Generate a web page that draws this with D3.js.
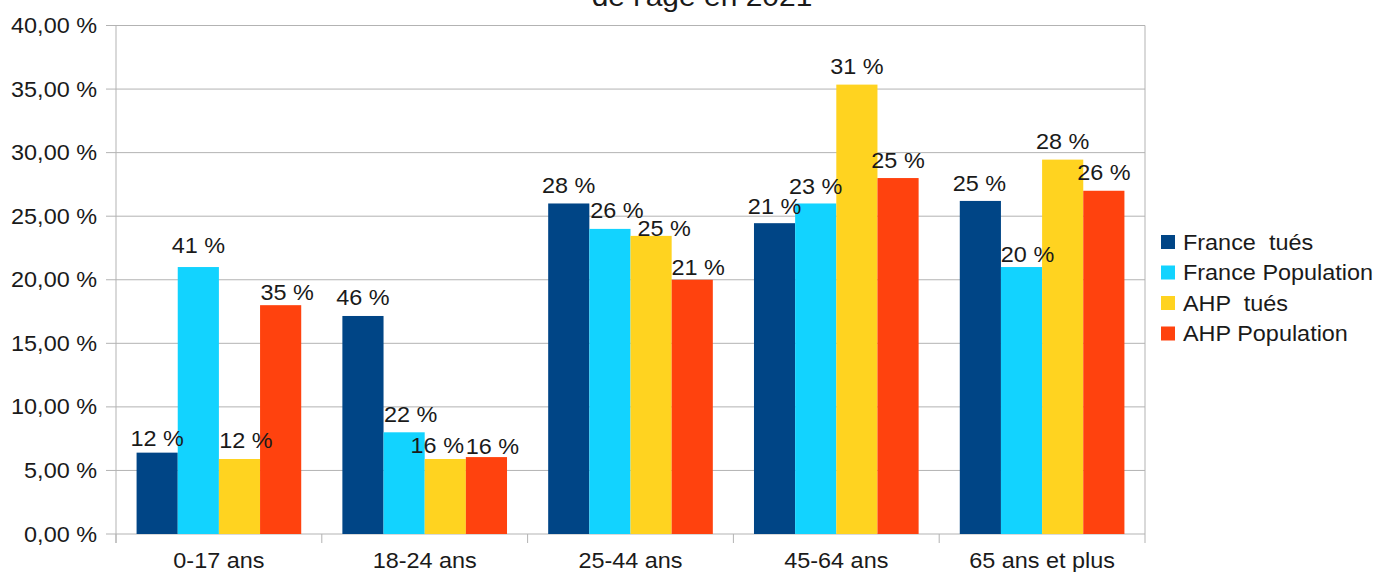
<!DOCTYPE html>
<html>
<head>
<meta charset="utf-8">
<script src="https://cdn.jsdelivr.net/npm/d3@7"></script>
<style>
  html, body { margin: 0; padding: 0; background: #fff; }
  svg { display: block; font-family: "Liberation Sans", Arial, sans-serif; }
  text { white-space: pre; }
</style>
</head>
<body>
<svg id="chart" width="1380" height="572"></svg>
<script>
const categories = ["0-17 ans", "18-24 ans", "25-44 ans", "45-64 ans", "65 ans et plus"];
const seriesNames = ["France  tués", "France Population", "AHP  tués", "AHP Population"];
const seriesColors = ["#004586", "#12d3ff", "#ffd320", "#ff420e"];
const franceTues = [6.4, 17.15, 26.0, 24.45, 26.2];
const francePop = [21.0, 8.0, 24.0, 26.0, 21.0];
const ahpTues = [5.9, 5.9, 23.45, 35.35, 29.45];
const ahpPop = [18.0, 6.05, 20.0, 28.0, 27.0];
const franceTuesLabels = ["12 %", "46 %", "28 %", "21 %", "25 %"];
const francePopLabels = ["41 %", "22 %", "26 %", "23 %", "20 %"];
const ahpTuesLabels = ["12 %", "16 %", "25 %", "31 %", "28 %"];
const ahpPopLabels = ["35 %", "16 %", "21 %", "25 %", "26 %"];
const yTicks = [0, 5, 10, 15, 20, 25, 30, 35, 40];
const titleText = "de l'âge en 2021";

// label placement nudges (layout only), [series][category] -> [dx, dy]
const labelNudge = [
  [[0, 3.5], [0, 0], [0, 0], [0, 1], [-1, 1]],
  [[0, -3.5], [6.5, 0], [7, 0], [0, 1], [6, 5.5]],
  [[6.5, 0], [-8, 5], [13, 11], [0, 0], [0, 0]],
  [[6.5, 5.5], [6, 7], [6, 5.5], [0, 0], [0, 0]]
];

const seriesValues = [franceTues, francePop, ahpTues, ahpPop];
const seriesLabels = [franceTuesLabels, francePopLabels, ahpTuesLabels, ahpPopLabels];

const svg = d3.select("#chart");
const pLeft = 116, pRight = 1145, pTop = 25.5, pBottom = 534;
const fs = 21.5;
const sx = 1.09;
const ink = "#1a1a1a";

function addText(parent, tx, ty, str, anchor, size) {
  return parent.append("text")
    .attr("transform", `translate(${tx},${ty}) scale(${sx},1)`)
    .attr("text-anchor", anchor)
    .attr("font-size", size || fs)
    .attr("fill", ink)
    .text(str);
}

const x = d3.scaleBand().domain(categories).range([pLeft, pRight]).paddingInner(0.2).paddingOuter(0.1);
const xs = d3.scaleBand().domain(d3.range(seriesNames.length)).range([0, x.bandwidth()]).padding(0);
const y = d3.scaleLinear().domain([0, 40]).range([pBottom, pTop]);

// gridlines
svg.append("g").selectAll("line").data(yTicks).join("line")
  .attr("x1", pLeft - 10).attr("x2", pRight)
  .attr("y1", d => y(d)).attr("y2", d => y(d))
  .attr("stroke", "#b3b3b3").attr("stroke-width", 1);

// right border
svg.append("line").attr("x1", pRight).attr("x2", pRight).attr("y1", pTop).attr("y2", pBottom)
  .attr("stroke", "#b3b3b3");

// y axis line
svg.append("line").attr("x1", pLeft).attr("x2", pLeft).attr("y1", pTop).attr("y2", pBottom + 9)
  .attr("stroke", "#b3b3b3");

// x ticks at category boundaries
const step = x.step();
const boundaries = d3.range(categories.length + 1).map(i => pLeft + i * step);
svg.append("g").selectAll("line").data(boundaries).join("line")
  .attr("x1", d => d).attr("x2", d => d).attr("y1", pBottom).attr("y2", pBottom + 9)
  .attr("stroke", "#b3b3b3");

// y tick labels
const fmt = d => d3.format(".2f")(d).replace(".", ",") + " %";
const gy = svg.append("g");
yTicks.forEach(t => addText(gy, 97, y(t) + 7.5, fmt(t), "end"));

// x labels
const gx = svg.append("g");
categories.forEach(c => addText(gx, x(c) + x.bandwidth() / 2, 567.5, c, "middle"));

// bars
seriesValues.forEach((vals, si) => {
  svg.append("g").selectAll("rect").data(vals).join("rect")
    .attr("x", (d, i) => x(categories[i]) + xs(si))
    .attr("width", xs.bandwidth())
    .attr("y", d => y(d))
    .attr("height", d => y(0) - y(d))
    .attr("fill", seriesColors[si]);
});

// bar labels
const gl = svg.append("g");
seriesValues.forEach((vals, si) => {
  vals.forEach((v, i) => {
    const [dx, dy] = labelNudge[si][i];
    addText(gl, x(categories[i]) + xs(si) + xs.bandwidth() / 2 + dx, y(v) - 10.5 + dy,
      seriesLabels[si][i], "middle");
  });
});

// legend
const lg = svg.append("g");
seriesNames.forEach((name, i) => {
  const cy = 242 + i * 30.5;
  lg.append("rect").attr("x", 1161).attr("y", cy - 7).attr("width", 14).attr("height", 14)
    .attr("fill", seriesColors[i]);
  addText(lg, 1183, cy + 7.5, name, "start");
});

// title (partially cut off at top, as in the reference)
addText(svg, 702, 6, titleText, "middle", 27.5);
</script>
</body>
</html>
